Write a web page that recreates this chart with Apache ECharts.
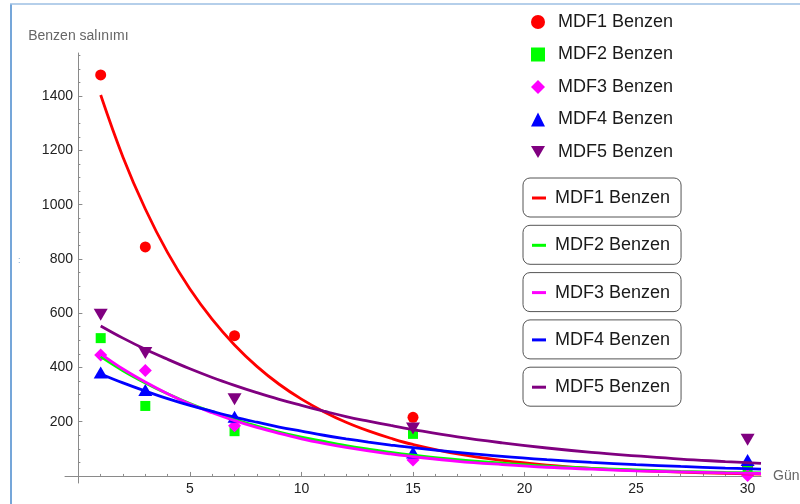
<!DOCTYPE html>
<html><head><meta charset="utf-8">
<script src="https://cdn.jsdelivr.net/npm/echarts@6/dist/echarts.min.js"></script>
<style>html,body{margin:0;padding:0;background:#fff}#c{width:800px;height:504px}</style>
</head><body><div id="c"></div>
<script>
const names = ['MDF1 Benzen','MDF2 Benzen','MDF3 Benzen','MDF4 Benzen','MDF5 Benzen'];
const days = [1, 3, 7, 15, 30];
const mdf1 = [1478, 844, 517, 216, 35];
const mdf2 = [508, 258, 165, 155, 30];
const mdf3 = [446, 389, 185, 59, 2];
const mdf4 = [381, 317, 218, 86, 59];
const mdf5 = [594, 453, 283, 175, 133];

const fitX = [1,2,3,4,5,6,7,8,9,10,11,12,13,14,15,17,19,21,23,25,27,29,30.6];
const fit1 = [1404,1175,984,823,689,577,483,404,338,283,237,198,166,139,116,81,57,40,28,20,14,10,7];
const fit2 = [440,388,343,303,267,236,208,184,162,143,127,112,99,87,77,60,47,36,28,22,17,13,11];
const fit3 = [450,394,346,303,265,233,204,179,157,137,120,105,92,81,71,54,42,32,25,19,15,11,9];
const fit4 = [376,343,313,285,260,238,217,198,180,165,150,137,125,114,104,87,72,60,50,42,35,29,25];
const fit5 = [553,508,467,430,395,363,334,307,282,260,239,219,202,186,171,144,122,103,87,74,62,53,46];

const xTicks = [5, 10, 15, 20, 25, 30];
const xMinor = [1,2,3,4,5,6,7,8,9,10,11,12,13,14,15,16,17,18,19,20,21,22,23,24,25,26,27,28,29,30];
const yTicks = [200, 400, 600, 800, 1000, 1200, 1400];
const yMinor = [50,100,150,200,250,300,350,400,450,500,550,600,650,700,750,800,850,900,950,1000,1050,1100,1150,1200,1250,1300,1350,1400,1450,1500,1550];

const xName = 'Gün';
const yName = 'Benzen salınımı';

const colors = ['#ff0000', '#00ff00', '#ff00ff', '#0000ff', '#800080'];
const symbols = ['circle', 'rect', 'diamond', 'triangle', 'path://M0,0L20,0L10,17Z'];
const symSizes = [11, 10, 13, [14, 12], [14, 12]];
const pointSets = [mdf1, mdf2, mdf3, mdf4, mdf5];
const fitSets = [fit1, fit2, fit3, fit4, fit5];
const FONT = 'Liberation Sans, Arial, sans-serif';
const FIT = ' fit';

const chart = echarts.init(document.getElementById('c'), null, {renderer: 'canvas'});

const series = [];
pointSets.forEach((vals, i) => {
  series.push({
    type: 'scatter', name: names[i], symbol: symbols[i], symbolSize: symSizes[i],
    itemStyle: {color: colors[i], opacity: 1},
    data: days.map((d, k) => [d, vals[k]]),
    emphasis: {disabled: true}, z: 2
  });
});
fitSets.forEach((vals, i) => {
  series.push({
    type: 'line', name: names[i] + FIT, symbol: 'none', smooth: 0.4,
    lineStyle: {color: colors[i], width: 2.8}, itemStyle: {color: colors[i]},
    data: fitX.map((x, k) => [x, vals[k]]),
    emphasis: {disabled: true}, z: 3
  });
});

const legends = [{
  orient: 'vertical', left: 531, top: 12, itemGap: 12.5, padding: 0,
  itemWidth: 14, itemHeight: 14, selectedMode: false,
  data: names,
  textStyle: {fontFamily: FONT, fontSize: 18, color: '#1a1a1a', lineHeight: 20, padding: [0, 0, 0, 8]}
}];
names.forEach((n, i) => {
  legends.push({
    orient: 'vertical', left: 523, top: 178 + i * 47.3,
    itemWidth: 14, itemHeight: 3, selectedMode: false,
    data: [{name: n + FIT, icon: 'rect'}],
    formatter: (name) => name.replace(FIT, ''),
    borderColor: '#555', borderWidth: 1, borderRadius: 7,
    padding: [10, 11, 9, 9], backgroundColor: '#fff',
    textStyle: {fontFamily: FONT, fontSize: 18, color: '#1a1a1a', lineHeight: 20, padding: [0, 0, 0, 4]}
  });
});

const axisLineStyle = {color: '#8a8a8a', width: 1};
const plain = (v) => String(v);

chart.setOption({
  animation: false,
  backgroundColor: '#fff',
  grid: {left: 65, right: 39, top: 53, bottom: 21, containLabel: false, outerBoundsMode: 'none'},
  legend: legends,
  xAxis: [{
    type: 'value', min: -0.6, max: 30.6, position: 'bottom',
    name: xName, nameLocation: 'end', nameGap: 12,
    nameTextStyle: {fontFamily: FONT, fontSize: 14, color: '#666', verticalAlign: 'middle'},
    axisLine: {show: true, onZero: true, onZeroAxisIndex: 0, lineStyle: axisLineStyle},
    axisTick: {show: true, inside: true, length: 4, customValues: xTicks, lineStyle: axisLineStyle},
    axisLabel: {customValues: xTicks, formatter: plain, fontFamily: FONT, fontSize: 14, color: '#222', margin: -1},
    splitLine: {show: false}
  }, {
    type: 'value', min: -0.6, max: 30.6, position: 'bottom',
    axisLine: {show: false, onZero: true, onZeroAxisIndex: 0},
    axisTick: {show: true, inside: true, length: 2, customValues: xMinor, lineStyle: axisLineStyle},
    axisLabel: {show: false},
    splitLine: {show: false}
  }],
  yAxis: [{
    type: 'value', min: -26, max: 1559, position: 'left',
    name: yName, nameLocation: 'end', nameGap: 10,
    nameTextStyle: {fontFamily: FONT, fontSize: 14, color: '#666'},
    axisLine: {show: true, onZero: true, onZeroAxisIndex: 0, lineStyle: axisLineStyle},
    axisTick: {show: true, inside: true, length: 4, customValues: yTicks, lineStyle: axisLineStyle},
    axisLabel: {customValues: yTicks, formatter: plain, fontFamily: FONT, fontSize: 14, color: '#222', margin: -8},
    splitLine: {show: false}
  }, {
    type: 'value', min: -26, max: 1559, position: 'left',
    axisLine: {show: false, onZero: true, onZeroAxisIndex: 0},
    axisTick: {show: true, inside: true, length: 2, customValues: yMinor, lineStyle: axisLineStyle},
    axisLabel: {show: false},
    splitLine: {show: false}
  }],
  graphic: [
    {type: 'line', shape: {x1: 11, y1: 4, x2: 11, y2: 504}, style: {stroke: '#75a6d9', lineWidth: 2}, silent: true},
    {type: 'line', shape: {x1: 10, y1: 4, x2: 800, y2: 4}, style: {stroke: '#9dbfe3', lineWidth: 1.5}, silent: true},
    {type: 'text', left: 18, top: 256, style: {text: ':', fontSize: 9, fill: '#7fa7d0', fontFamily: FONT}, silent: true}
  ],
  series: series
});
</script></body></html>
